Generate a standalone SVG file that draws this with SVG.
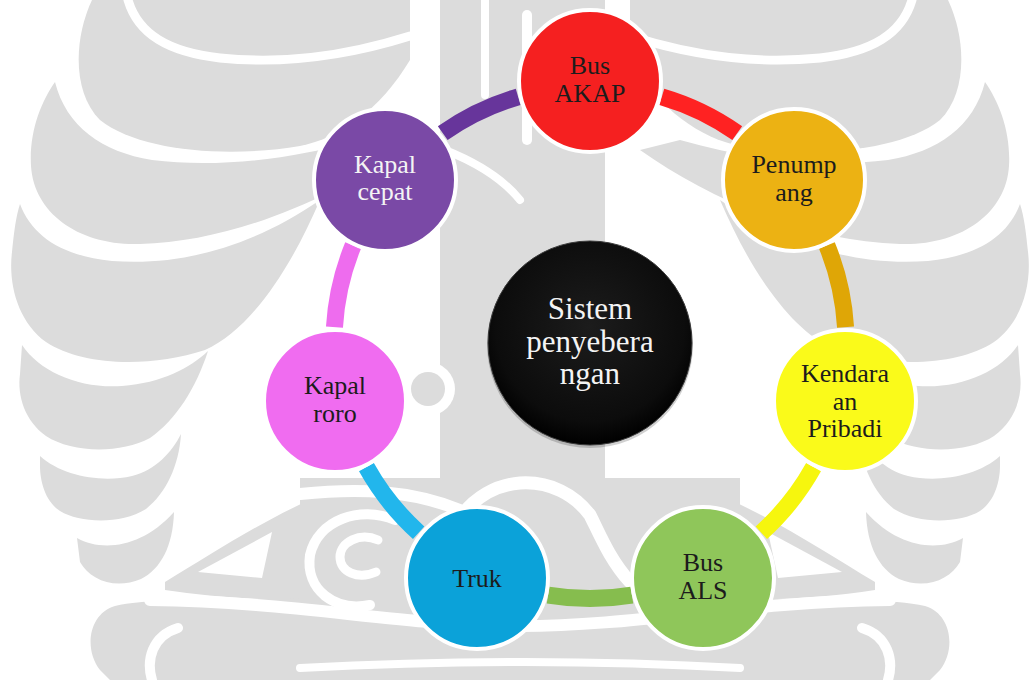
<svg xmlns="http://www.w3.org/2000/svg" width="1036" height="680" viewBox="0 0 1036 680">
<defs>
<style>
.wm{fill:#dcdcdc}
.ws{fill:none;stroke:#ffffff;stroke-linecap:round}
.arc{fill:none;stroke-width:17;stroke-linecap:butt}
.node{stroke:#ffffff;stroke-width:4}
.lbl{font-family:"Liberation Serif","Times New Roman",serif;font-size:26px;text-anchor:middle;fill:#1c1c1c}
.light{fill:#f4f4f4}
.big{font-size:31px}
</style>
<radialGradient id="gBlack" cx="50%" cy="42%" r="58%">
<stop offset="0" stop-color="#1c1c1c"/>
<stop offset="0.8" stop-color="#0c0c0c"/>
<stop offset="1" stop-color="#000000"/>
</radialGradient>
<g id="wmHalf">
<path class="wm" d="M92,0 C74,38 72,92 100,120 C140,152 230,158 300,146 C340,138 380,110 410,60 L410,0 Z"/>
<path class="ws" stroke-width="9" d="M128,0 C138,34 168,52 220,58 C280,64 340,58 410,36"/>
<path class="wm" d="M55,82 C66,126 102,152 152,160 C215,168 290,160 360,140 L400,150 C330,200 230,242 140,244 C80,246 34,214 31,166 C29,132 41,102 55,82 Z"/>
<path class="wm" d="M20,204 C32,236 62,256 112,261 C180,266 250,248 320,200 C290,270 250,330 205,350 C150,368 82,366 46,342 C18,322 8,284 12,252 C14,232 16,216 20,204 Z"/>
<path class="wm" d="M22,345 C40,372 80,389 122,386 C162,383 190,368 208,351 C196,388 176,420 150,438 C120,454 72,453 46,436 C25,421 17,396 20,374 Z"/>
<path class="wm" d="M40,456 C62,476 102,483 132,476 C156,470 172,452 181,434 C179,466 166,493 146,509 C120,525 80,523 60,511 C45,501 40,481 40,466 Z"/>
<path class="wm" d="M77,538 C102,552 142,548 174,512 C173,546 161,569 141,579 C115,590 90,580 80,562 Z"/>
<path class="wm" d="M165,582 C210,555 260,522 310,500 L310,600 C260,600 210,597 165,590 Z"/>
<path fill="#ffffff" d="M198,572 L272,532 L262,578 Z"/>
<path class="wm" d="M310,598 C220,600 150,598 115,606 C88,614 84,650 100,670 L110,680 L310,680 Z"/>
<path class="ws" stroke-width="10" d="M152,680 C146,660 152,636 178,628"/>
</g>
</defs>
<rect width="1036" height="680" fill="#ffffff"/>
<g id="watermark">
<use href="#wmHalf"/>
<use href="#wmHalf" transform="translate(1040,0) scale(-1,1)"/>
<rect class="wm" x="440" y="0" width="165" height="480"/>
<rect class="wm" x="300" y="478" width="440" height="202"/>
<path class="ws" stroke-width="8" d="M485,0 L485,95"/>
<path class="ws" stroke-width="10" d="M527,15 L527,140"/>
<path class="ws" stroke-width="8" d="M445,150 C470,160 500,175 520,200"/>
<circle cx="428" cy="389" r="27" fill="#ffffff"/>
<circle class="wm" cx="428" cy="389" r="17"/>
<path class="ws" stroke-width="12" d="M300,494 C360,488 410,490 460,510"/>
<path class="ws" stroke-width="13" d="M462,515 C475,498 495,485 520,483 C550,481 575,495 590,515 C600,535 610,560 630,582"/>
<path class="ws" stroke-width="10" d="M395,520 C360,505 318,520 310,555 C305,590 335,612 370,605"/>
<path class="ws" stroke-width="9" d="M378,540 C360,532 340,542 340,557 C340,572 358,580 376,572"/>
<path class="ws" stroke-width="12" d="M150,600 C300,602 400,626 520,626 C640,626 740,602 890,600"/>
<path class="ws" stroke-width="8" d="M300,668 C450,660 600,660 740,668"/>
</g>
<g id="connectors">
<path class="arc" stroke="#ff2222" d="M661.85,96.79 A256,256 0 0 1 737.25,133.09"/>
<path class="arc" stroke="#dfa606" d="M826.90,245.47 A256,256 0 0 1 845.54,327.13"/>
<path class="arc" stroke="#f6f60e" d="M813.56,467.22 A256,256 0 0 1 761.35,532.70"/>
<path class="arc" stroke="#86bd4e" d="M631.87,595.05 A256,256 0 0 1 548.13,595.05"/>
<path class="arc" stroke="#22b6ec" d="M418.65,532.70 A256,256 0 0 1 366.44,467.22"/>
<path class="arc" stroke="#ee6cee" d="M334.46,327.13 A256,256 0 0 1 353.10,245.47"/>
<path class="arc" stroke="#67359b" d="M442.75,133.09 A256,256 0 0 1 518.15,96.79"/>
</g>
<g id="node-center">
<circle cx="590" cy="345" r="103" fill="#000000" opacity="0.18"/>
<circle cx="590" cy="343" r="102" fill="url(#gBlack)" stroke="#3a3a3a" stroke-width="1"/>
<text class="lbl light big" x="590" y="319">Sistem</text>
<text class="lbl light big" x="590" y="352">penyebera</text>
<text class="lbl light big" x="590" y="384">ngan</text>
</g>
<g id="node-bus-akap">
<circle class="node" cx="590" cy="81" r="71" fill="#f52020"/>
<text class="lbl" x="590" y="74">Bus</text>
<text class="lbl" x="590" y="102">AKAP</text>
</g>
<g id="node-penumpang">
<circle class="node" cx="794" cy="180" r="71" fill="#ecb213"/>
<text class="lbl" x="794" y="173">Penump</text>
<text class="lbl" x="794" y="201">ang</text>
</g>
<g id="node-kendaraan-pribadi">
<circle class="node" cx="845" cy="401" r="71" fill="#fafa1a"/>
<text class="lbl" x="845" y="382">Kendara</text>
<text class="lbl" x="845" y="410">an</text>
<text class="lbl" x="845" y="437">Pribadi</text>
</g>
<g id="node-bus-als">
<circle class="node" cx="703" cy="578" r="71" fill="#8fc65a"/>
<text class="lbl" x="703" y="571">Bus</text>
<text class="lbl" x="703" y="599">ALS</text>
</g>
<g id="node-truk">
<circle class="node" cx="477" cy="578" r="71" fill="#0ba2d9"/>
<text class="lbl" x="477" y="587">Truk</text>
</g>
<g id="node-kapal-roro">
<circle class="node" cx="335" cy="401" r="71" fill="#f06cf0"/>
<text class="lbl" x="335" y="394">Kapal</text>
<text class="lbl" x="335" y="422">roro</text>
</g>
<g id="node-kapal-cepat">
<circle class="node" cx="385" cy="180" r="71" fill="#7a49a6"/>
<text class="lbl light" x="385" y="173">Kapal</text>
<text class="lbl light" x="385" y="200">cepat</text>
</g>
</svg>
